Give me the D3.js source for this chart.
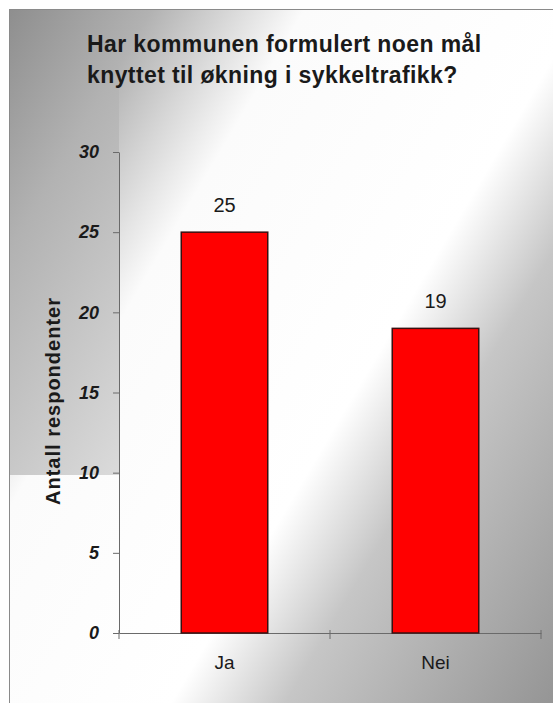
<!DOCTYPE html>
<html>
<head>
<meta charset="utf-8">
<script src="https://cdn.jsdelivr.net/npm/d3@7"></script>
<style>
  body { margin: 0; background: #fff; }
  svg { display: block; font-family: Arial, "Liberation Sans", sans-serif; }
</style>
</head>
<body>
<div id="chart"></div>
<script>
// Chart data
const categories = ["Ja", "Nei"];
const values = [25, 19];
const yTicks = [0, 5, 10, 15, 20, 25, 30];
const titleLines = [
  "Har kommunen formulert noen mål",
  "knyttet til økning i sykkeltrafikk?",
];
const yTitle = "Antall respondenter";

const width = 553;
const height = 703;
const margin = { top: 152, right: 12, bottom: 70, left: 119 };

const svg = d3
  .select("#chart")
  .append("svg")
  .attr("width", width)
  .attr("height", height);

const defs = svg.append("defs");

// Diagonal background: gray -> white band -> gray
function addGradient(id, stops) {
  const g = defs
    .append("linearGradient")
    .attr("id", id)
    .attr("gradientUnits", "userSpaceOnUse")
    .attr("x1", 9)
    .attr("y1", 9)
    .attr("x2", 716)
    .attr("y2", 428);
  stops.forEach(([o, c]) => {
    g.append("stop").attr("offset", o).attr("stop-color", c);
  });
}

addGradient("bg", [
  [0, "#8e8e8e"],
  [0.15, "#b2b2b2"],
  [0.31, "#fbfbfb"],
  [0.6, "#ffffff"],
  [0.72, "#c6c6c6"],
  [1, "#959595"],
]);

// left strip stays gray in the scan
addGradient("strip", [
  [0, "#8e8e8e"],
  [0.15, "#b2b2b2"],
  [0.4, "#dadada"],
]);

svg
  .append("rect")
  .attr("x", 9)
  .attr("y", 9)
  .attr("width", width - 9)
  .attr("height", height - 9)
  .attr("fill", "url(#bg)");

svg
  .append("rect")
  .attr("x", 10)
  .attr("y", 10)
  .attr("width", 109)
  .attr("height", 465)
  .attr("fill", "url(#strip)");

// frame (top + left edges)
svg
  .append("path")
  .attr("d", `M9.5,${height}V9.5H${width}`)
  .attr("fill", "none")
  .attr("stroke", "#8a8a8a")
  .attr("stroke-width", 1);

// Scales
const x = d3
  .scaleBand()
  .domain(categories)
  .range([margin.left, width - margin.right]);

const y = d3
  .scaleLinear()
  .domain([0, 30])
  .range([height - margin.bottom, margin.top]);

// Title
svg
  .append("text")
  .attr("x", 87)
  .attr("y", 52)
  .attr("font-size", "23px")
  .attr("font-weight", "bold")
  .attr("letter-spacing", "0.4px")
  .attr("fill", "#1a1a1a")
  .selectAll("tspan")
  .data(titleLines)
  .enter()
  .append("tspan")
  .attr("x", 87)
  .attr("dy", (d, i) => (i === 0 ? 0 : 31))
  .text((d) => d);

// Y axis
const yAxis = d3
  .axisLeft(y)
  .tickValues(yTicks)
  .tickSize(6)
  .tickSizeOuter(0)
  .tickPadding(14);

const gy = svg
  .append("g")
  .attr("transform", `translate(${margin.left},0)`)
  .call(yAxis);
gy.select(".domain").attr("stroke", "#6a6a6a");
gy.selectAll(".tick line").attr("stroke", "#6a6a6a");
gy.selectAll(".tick text")
  .attr("font-size", "18px")
  .attr("font-weight", "bold")
  .attr("font-style", "italic")
  .attr("fill", "#1a1a1a")
  .attr("font-family", "Arial, 'Liberation Sans', sans-serif");

// Y axis title
svg
  .append("text")
  .attr("transform", `translate(60,401) rotate(-90)`)
  .attr("text-anchor", "middle")
  .attr("font-size", "20px")
  .attr("font-weight", "bold")
  .attr("letter-spacing", "1px")
  .attr("fill", "#1a1a1a")
  .text(yTitle);

// X axis (labels only, ticks between categories)
const xAxis = d3.axisBottom(x).tickSize(0).tickPadding(23);
const gx = svg
  .append("g")
  .attr("transform", `translate(0,${y(0)})`)
  .call(xAxis);
gx.select(".domain").attr("stroke", "#6a6a6a");
gx.selectAll(".tick text")
  .attr("font-size", "19px")
  .attr("fill", "#1a1a1a")
  .attr("font-family", "Arial, 'Liberation Sans', sans-serif");

const bounds = categories.map((c) => x(c)).concat([x.range()[1]]);
gx.selectAll("line.sep")
  .data(bounds)
  .enter()
  .append("line")
  .attr("class", "sep")
  .attr("x1", (d) => d)
  .attr("x2", (d) => d)
  .attr("y1", -3)
  .attr("y2", 6)
  .attr("stroke", "#6a6a6a");

// Bars
const barW = x.bandwidth() * 0.41;
const data = categories.map((c, i) => ({ cat: c, val: values[i] }));

svg
  .selectAll("rect.bar")
  .data(data)
  .enter()
  .append("rect")
  .attr("class", "bar")
  .attr("x", (d) => x(d.cat) + (x.bandwidth() - barW) / 2)
  .attr("y", (d) => y(d.val))
  .attr("width", barW)
  .attr("height", (d) => y(0) - y(d.val))
  .attr("fill", "#ff0000")
  .attr("stroke", "#3a1010")
  .attr("stroke-width", 1.5);

// Value labels
svg
  .selectAll("text.val")
  .data(data)
  .enter()
  .append("text")
  .attr("class", "val")
  .attr("x", (d) => x(d.cat) + x.bandwidth() / 2)
  .attr("y", (d) => y(d.val) - 20)
  .attr("text-anchor", "middle")
  .attr("font-size", "20px")
  .attr("fill", "#1a1a1a")
  .text((d) => d.val);
</script>
</body>
</html>
